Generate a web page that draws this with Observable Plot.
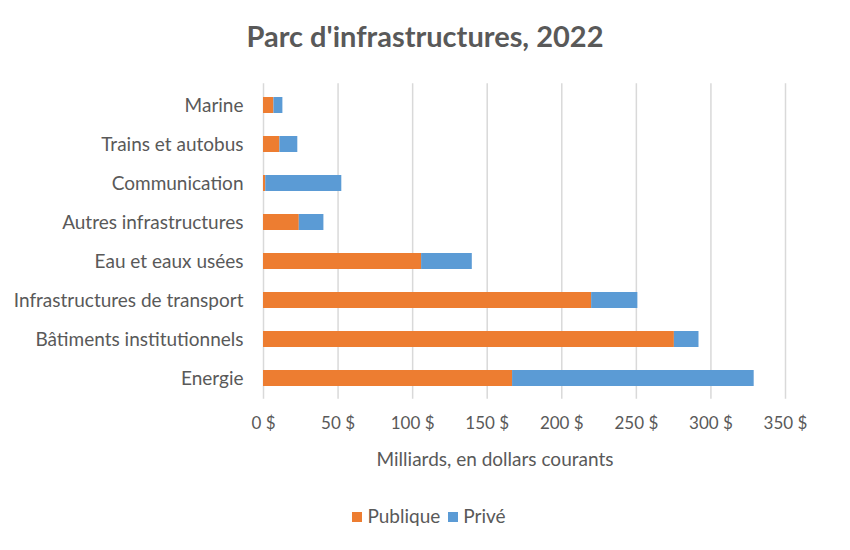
<!DOCTYPE html>
<html>
<head>
<meta charset="utf-8">
<script src="https://cdn.jsdelivr.net/npm/d3@7"></script>
<script src="https://cdn.jsdelivr.net/npm/@observablehq/plot@0.6"></script>
<style>
  body { margin: 0; background: #fff; font-family: Lato, "Open Sans", sans-serif; }
  #wrap { width: 850px; height: 550px; position: relative; }
  #title { height: 70px; line-height: 72px; text-align: center; font-size: 29px; font-weight: bold; color: #595959; }
  #chart svg { display: block; }
  #xlabel { position: absolute; left: 0; top: 447px; width: 990px; text-align: center; font-size: 19px; color: #595959; }
  #legend { position: absolute; left: 0; top: 504px; width: 858px; text-align: center; font-size: 19px; color: #595959; }
  .sw { display: inline-block; width: 10px; height: 10px; margin-right: 5px; vertical-align: 1px; }
  .item { margin: 0 4px; }
</style>
</head>
<body>
<div id="wrap">
  <div id="title">Parc d'infrastructures, 2022</div>
  <div id="chart"></div>
  <div id="xlabel">Milliards, en dollars courants</div>
  <div id="legend"></div>
</div>
<script>
const categories = ["Marine", "Trains et autobus", "Communication", "Autres infrastructures", "Eau et eaux usées", "Infrastructures de transport", "Bâtiments institutionnels", "Energie"];
const publique = [7, 11, 1.5, 24, 106, 220, 275.5, 167];
const prive = [6, 12, 51, 16.5, 34, 31, 16.5, 162];
const series = ["Publique", "Privé"];
const colors = ["#ED7D31", "#5B9BD5"];
const xTicks = [0, 50, 100, 150, 200, 250, 300, 350];

const data = [];
categories.forEach((c, i) => {
  data.push({cat: c, serie: series[0], value: publique[i]});
  data.push({cat: c, serie: series[1], value: prive[i]});
});

const chart = Plot.plot({
  width: 850,
  height: 370,
  marginTop: 13.3,
  marginBottom: 41.3,
  marginLeft: 263,
  marginRight: 65,
  style: {fontFamily: "Lato, 'Open Sans', sans-serif", fontSize: "17px", color: "#595959", background: "#fff"},
  x: {domain: [0, 350], ticks: xTicks, tickFormat: d => d + " $", label: null, tickSize: 0, tickPadding: 18},
  y: {domain: categories, paddingInner: 0.6, paddingOuter: 0.3, label: null, tickSize: 0, tickPadding: 20},
  color: {domain: series, range: colors},
  marks: [
    Plot.gridX(xTicks, {stroke: "#d9d9d9", strokeOpacity: 1, strokeWidth: 1.5}),
    Plot.barX(data, Plot.stackX({x: "value", y: "cat", fill: "serie", order: series})),
    Plot.axisX({ticks: xTicks, tickFormat: d => d + " $", tickSize: 0, tickPadding: 18, label: null, fontSize: 17}),
    Plot.axisY({tickSize: 0, tickPadding: 20, label: null, fontSize: 19})
  ]
});
document.getElementById("chart").appendChild(chart);

const legend = document.getElementById("legend");
series.forEach((s, i) => {
  const span = document.createElement("span");
  span.className = "item";
  span.innerHTML = `<span class="sw" style="background:${colors[i]}"></span>${s}`;
  legend.appendChild(span);
});
</script>
</body>
</html>
